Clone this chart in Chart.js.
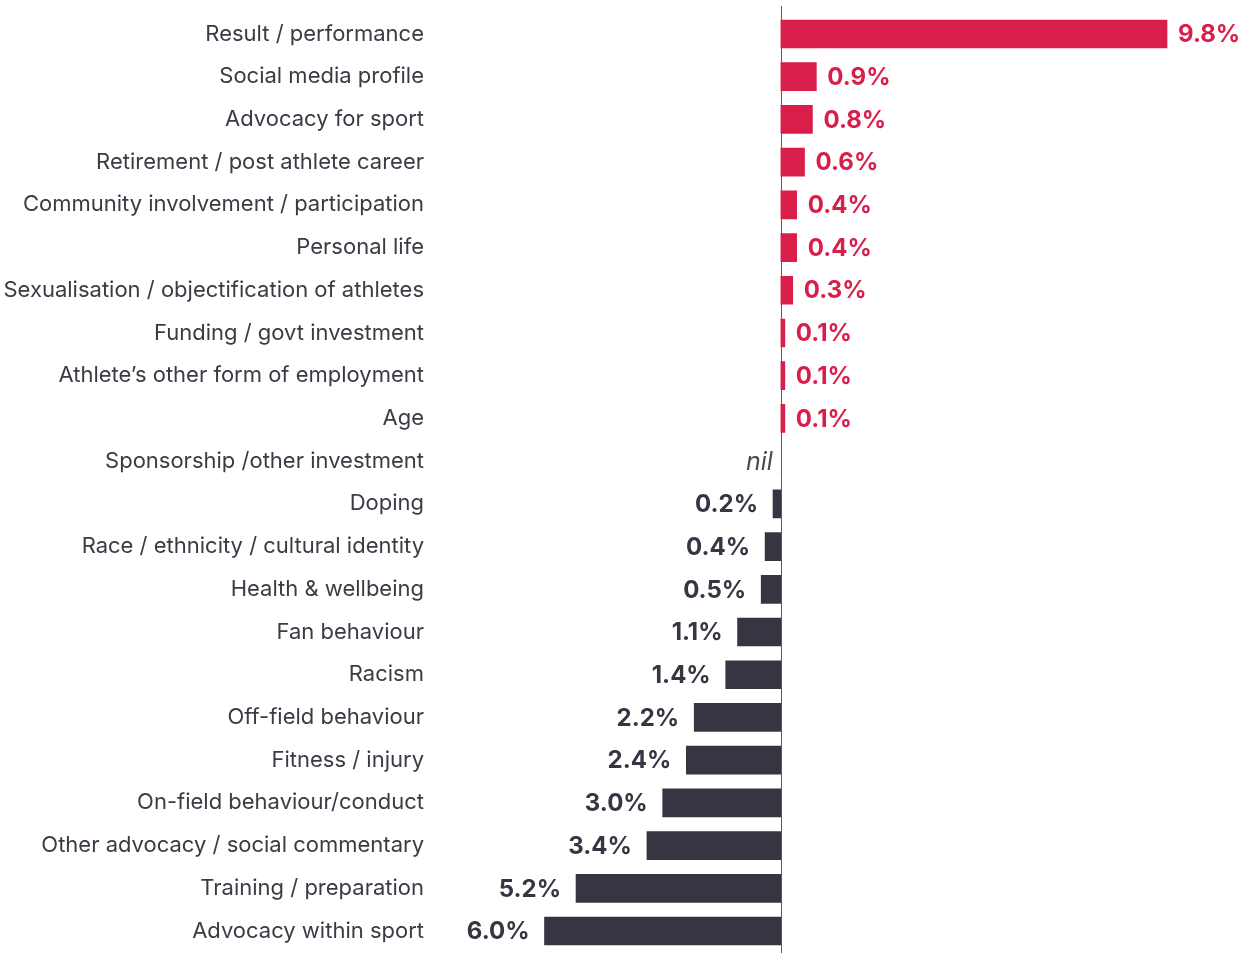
<!DOCTYPE html>
<html><head><meta charset="utf-8">
<script src="https://cdn.jsdelivr.net/npm/chart.js@4.4.0/dist/chart.umd.min.js"></script>
<style>html,body{margin:0;padding:0;background:#fff}#wrap{width:1256px;height:953px;position:relative}</style>
</head><body><div id="wrap"><canvas id="c" width="1256" height="953"></canvas></div>
<script>
const categories = ["Result / performance","Social media profile","Advocacy for sport","Retirement / post athlete career","Community involvement / participation","Personal life","Sexualisation / objectification of athletes","Funding / govt investment","Athlete\u2019s other form of employment","Age","Sponsorship /other investment","Doping","Race / ethnicity / cultural identity","Health & wellbeing","Fan behaviour","Racism","Off-field behaviour","Fitness / injury","On-field behaviour/conduct","Other advocacy / social commentary","Training / preparation","Advocacy within sport"];
const values = [9.8,0.9,0.8,0.6,0.4,0.4,0.3,0.1,0.1,0.1,0,-0.2,-0.4,-0.5,-1.1,-1.4,-2.2,-2.4,-3.0,-3.4,-5.2,-6.0];
const valueLabels = ["9.8%","0.9%","0.8%","0.6%","0.4%","0.4%","0.3%","0.1%","0.1%","0.1%","nil","0.2%","0.4%","0.5%","1.1%","1.4%","2.2%","2.4%","3.0%","3.4%","5.2%","6.0%"];
const RED = "#D91E4A", DARK = "#353641", TEXT = "#3b3b45";
const FONT = "Inter";

const labelPlugin = {
  id: 'vlabels',
  afterDatasetsDraw(chart) {
    const ctx = chart.ctx;
    const meta = chart.getDatasetMeta(0);
    const x0 = chart.scales.x.getPixelForValue(0);
    ctx.save();
    ctx.strokeStyle = "#5a5a62";
    ctx.lineWidth = 1;
    ctx.beginPath();
    ctx.moveTo(Math.round(x0)+0.5, 6);
    ctx.lineTo(Math.round(x0)+0.5, chart.height);
    ctx.stroke();
    ctx.textBaseline = 'middle';
    meta.data.forEach((bar, i) => {
      const v = values[i];
      const y = bar.y;
      if (v > 0) {
        ctx.font = "700 24px " + FONT;
        ctx.fillStyle = RED;
        ctx.textAlign = 'left';
        ctx.fillText(valueLabels[i], bar.x + 11, y + 1);
      } else if (v < 0) {
        ctx.font = "700 24px " + FONT;
        ctx.fillStyle = DARK;
        ctx.textAlign = 'right';
        ctx.fillText(valueLabels[i], bar.x - 15, y + 1);
      } else {
        ctx.font = "italic 25px " + FONT;
        ctx.fillStyle = "#4a4a52";
        ctx.textAlign = 'right';
        ctx.fillText(valueLabels[i], x0 - 8, y + 1);
      }
    });
    ctx.restore();
  }
};

new Chart(document.getElementById('c'), {
  type: 'bar',
  data: {
    labels: categories,
    datasets: [{
      data: values,
      backgroundColor: values.map(v => v > 0 ? RED : (v < 0 ? DARK : 'rgba(0,0,0,0)')),
      borderWidth: 0,
      barThickness: 28
    }]
  },
  options: {
    indexAxis: 'y',
    responsive: false,
    animation: false,
    layout: { padding: { top: 12.6, bottom: 0.6, right: 22, left: 0 } },
    plugins: { legend: { display: false }, tooltip: { enabled: false } },
    scales: {
      x: { display: false, min: -8.5, max: 11.5 },
      y: {
        grid: { display: false },
        border: { display: false },
        afterFit(s) { s.width = 446; s.paddingTop = 0; s.paddingBottom = 0; },
        ticks: { padding: 14, color: TEXT, font: { family: FONT, size: 22 }, autoSkip: false }
      }
    }
  },
  plugins: [labelPlugin]
});
</script></body></html>
